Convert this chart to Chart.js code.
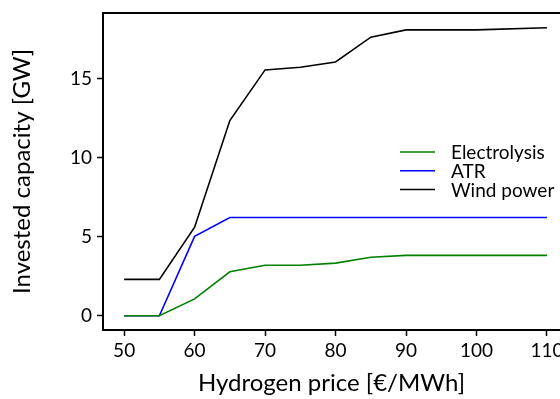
<!DOCTYPE html>
<html>
<head>
<meta charset="utf-8">
<script src="https://cdn.jsdelivr.net/npm/chart.js@4.4.0/dist/chart.umd.min.js"></script>
<style>
  html, body { margin: 0; padding: 0; background: #fff; }
  #wrap { width: 560px; height: 399px; position: relative; }
</style>
</head>
<body>
<div id="wrap"><canvas id="chart"></canvas></div>
<script>
// data
const prices = [50, 55, 60, 65, 70, 75, 80, 85, 90, 100, 110];
const electrolysis = [0, 0, 1.07, 2.78, 3.2, 3.2, 3.33, 3.7, 3.82, 3.82, 3.82];
const atr = [0, 0, 5.02, 6.22, 6.22, 6.22, 6.22, 6.22, 6.22, 6.22, 6.22];
const wind = [2.3, 2.3, 5.6, 12.35, 15.55, 15.72, 16.05, 17.62, 18.08, 18.08, 18.22];
const xTicks = [50, 60, 70, 80, 90, 100, 110];
const yTicks = [0, 5, 10, 15];

const font = "Lato";
const ctx = document.querySelector("#chart").getContext("2d");

const toPoints = (vals) => vals.map((v, i) => ({ x: prices[i], y: v }));

const series = [
  { label: "Electrolysis", data: electrolysis, color: "#008000" },
  { label: "ATR", data: atr, color: "#0000ff" },
  { label: "Wind power", data: wind, color: "#000000" },
];

// legend drawn without frame, inside plot
const legendPlugin = {
  id: "plotLegend",
  afterDraw(chart) {
    const c = chart.ctx;
    c.save();
    c.font = "19px " + font;
    c.textBaseline = "middle";
    series.forEach((s, i) => {
      const y = 152 + i * 18.8;
      c.strokeStyle = s.color;
      c.lineWidth = 1.5;
      c.beginPath();
      c.moveTo(400, y);
      c.lineTo(435, y);
      c.stroke();
      c.fillStyle = "#000";
      c.fillText(s.label, 451, y + 1);
    });
    c.restore();
  },
};

const noSidePad = (axis) => {
  axis.paddingLeft = 0;
  axis.paddingRight = 0;
  axis.paddingTop = 0;
  axis.paddingBottom = 0;
};

new Chart(ctx, {
  type: "line",
  data: {
    datasets: series.map((s) => ({
      label: s.label,
      data: toPoints(s.data),
      borderColor: s.color,
      borderWidth: 1.6,
      pointRadius: 0,
      tension: 0,
      fill: false,
    })),
  },
  options: {
    responsive: true,
    maintainAspectRatio: false,
    animation: false,
    layout: { padding: { top: 13, right: 0, left: 0, bottom: 0 } },
    plugins: {
      legend: { display: false },
      tooltip: { enabled: false },
    },
    scales: {
      x: {
        type: "linear",
        position: "bottom",
        min: 47,
        max: 111.85,
        afterBuildTicks: (axis) => {
          axis.ticks = xTicks.map((v) => ({ value: v }));
        },
        afterFit: (axis) => {
          axis.height = 69;
          noSidePad(axis);
        },
        grid: {
          display: true,
          drawOnChartArea: false,
          drawTicks: true,
          tickLength: 6,
          color: "#000",
          tickWidth: 1.5,
        },
        border: { display: true, color: "#000", width: 2 },
        ticks: {
          color: "#000",
          font: { family: font, size: 19 },
          padding: 3,
          maxRotation: 0,
        },
        title: {
          display: true,
          text: "Hydrogen price [€/MWh]",
          color: "#000",
          font: { family: font, size: 24 },
          padding: { top: 4, bottom: 1 },
        },
      },
      xTop: {
        type: "linear",
        position: "top",
        min: 47,
        max: 111.85,
        grid: { display: false },
        ticks: { display: false },
        border: { display: true, color: "#000", width: 2 },
        afterFit: (axis) => {
          axis.height = 0;
          noSidePad(axis);
        },
      },
      y: {
        type: "linear",
        min: -0.9,
        max: 19.15,
        afterBuildTicks: (axis) => {
          axis.ticks = yTicks.map((v) => ({ value: v }));
        },
        afterFit: (axis) => {
          axis.width = 103;
          noSidePad(axis);
        },
        grid: {
          display: true,
          drawOnChartArea: false,
          drawTicks: true,
          tickLength: 6,
          color: "#000",
          tickWidth: 1.5,
        },
        border: { display: true, color: "#000", width: 2 },
        ticks: {
          color: "#000",
          font: { family: font, size: 19 },
          padding: 5,
        },
        title: {
          display: true,
          text: "Invested capacity [GW]",
          color: "#000",
          font: { family: font, size: 24 },
          padding: { top: 8, bottom: 4 },
        },
      },
    },
  },
  plugins: [legendPlugin],
});
</script>
</body>
</html>
